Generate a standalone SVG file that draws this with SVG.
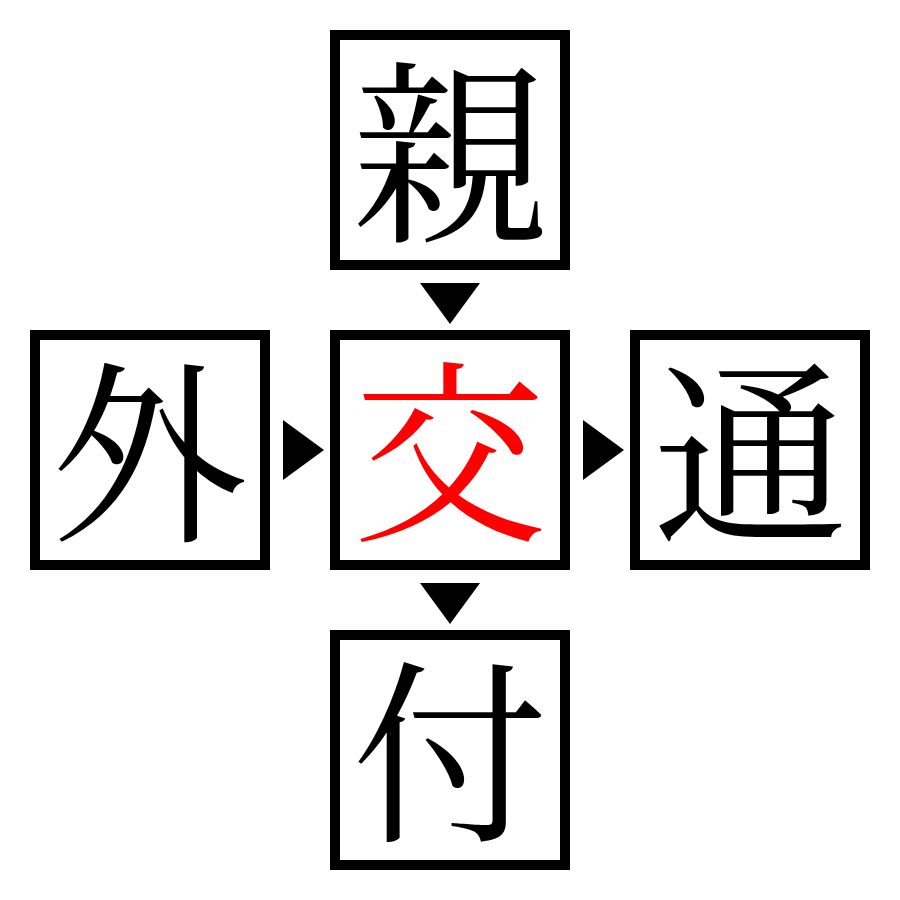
<svg xmlns="http://www.w3.org/2000/svg" width="900" height="900" viewBox="0 0 900 900">
<style>
.box{fill:#fff;stroke:#000;stroke-width:10}
.ch{font-family:"Noto Serif CJK JP","Noto Sans CJK JP",serif;font-size:196px;text-anchor:middle;dominant-baseline:central;fill:#000}
.red{fill:#ff0000}
.arr{fill:#000}
</style>
<rect width="900" height="900" fill="#fff"/>
<g id="connectors">
<polygon class="arr" points="420,283 480,283 450,324"/>
<polygon class="arr" points="420,583 480,583 450,624"/>
<polygon class="arr" points="283,420 283,480 324,450"/>
<polygon class="arr" points="583,420 583,480 624,450"/>
</g>
<g id="node-top"><rect class="box" x="335" y="35" width="230" height="230"/><text class="ch" x="450" y="141">親</text></g>
<g id="node-left"><rect class="box" x="35" y="335" width="230" height="230"/><text class="ch" x="150" y="441">外</text></g>
<g id="node-center"><rect class="box" x="335" y="335" width="230" height="230"/><text class="ch red" x="450" y="441">交</text></g>
<g id="node-right"><rect class="box" x="635" y="335" width="230" height="230"/><text class="ch" x="750" y="441">通</text></g>
<g id="node-bottom"><rect class="box" x="335" y="635" width="230" height="230"/><text class="ch" x="450" y="741">付</text></g>
</svg>
